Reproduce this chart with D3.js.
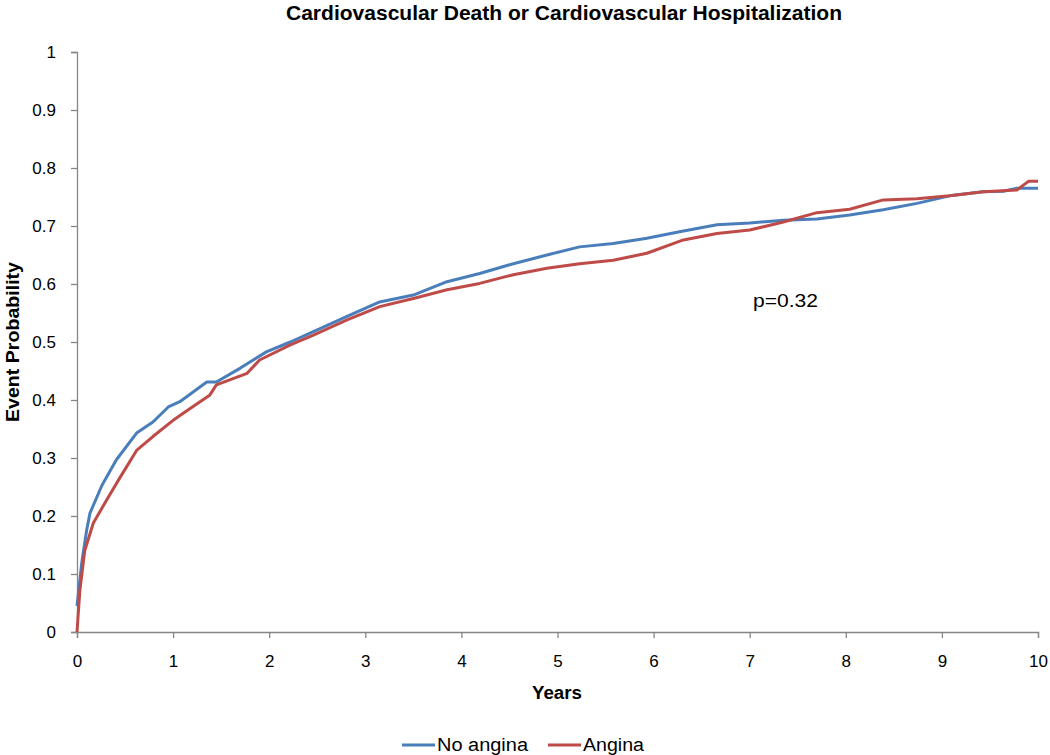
<!DOCTYPE html>
<html>
<head>
<meta charset="utf-8">
<script src="https://cdn.jsdelivr.net/npm/d3@7"></script>
<style>
  body { margin: 0; background: #fff; }
  text { font-family: "Liberation Sans", Arial, sans-serif; }
</style>
</head>
<body>
<div id="chart"></div>
<script>
// Kaplan-Meier style curves (years, event probability)
const noAnginaYears = [0, 0.05, 0.1, 0.135, 0.26, 0.41, 0.62, 0.79, 0.95, 1.07, 1.35, 1.45, 1.7, 1.97, 2.22,
  2.46, 2.81, 3.15, 3.5, 3.85, 4.19, 4.54, 4.89, 5.23, 5.58, 5.93, 6.27, 6.66, 7.0, 7.35, 7.7, 8.04, 8.39,
  8.74, 9.08, 9.43, 9.64, 9.78, 10];
const noAnginaProb = [0.045, 0.12, 0.175, 0.205, 0.253, 0.297, 0.343, 0.362, 0.388, 0.397, 0.431, 0.431, 0.455, 0.483, 0.5,
  0.518, 0.544, 0.569, 0.581, 0.604, 0.618, 0.635, 0.65, 0.664, 0.67, 0.679, 0.69, 0.702, 0.705, 0.71, 0.712, 0.719, 0.728,
  0.739, 0.752, 0.759, 0.76, 0.765, 0.765];

const anginaYears = [0, 0.03, 0.08, 0.17, 0.31, 0.45, 0.62, 0.79, 1.0, 1.2, 1.38, 1.45, 1.77, 1.9, 2.22,
  2.46, 2.81, 3.15, 3.5, 3.85, 4.19, 4.54, 4.89, 5.23, 5.58, 5.93, 6.31, 6.66, 7.0, 7.35, 7.7, 8.04, 8.39,
  8.74, 9.08, 9.43, 9.78, 9.9, 10];
const anginaProb = [0, 0.072, 0.14, 0.188, 0.228, 0.267, 0.313, 0.337, 0.365, 0.388, 0.408, 0.426, 0.446, 0.469, 0.495,
  0.512, 0.538, 0.561, 0.575, 0.59, 0.601, 0.616, 0.627, 0.635, 0.641, 0.653, 0.676, 0.687, 0.693, 0.707, 0.723, 0.729, 0.745,
  0.747, 0.752, 0.759, 0.762, 0.777, 0.777];

const xTicks = [0, 1, 2, 3, 4, 5, 6, 7, 8, 9, 10];
const yTicks = [0, 0.1, 0.2, 0.3, 0.4, 0.5, 0.6, 0.7, 0.8, 0.9, 1];

const width = 1050, height = 755;
const margin = { top: 52, right: 12, bottom: 123, left: 77 };

const svg = d3.select("#chart").append("svg")
    .attr("width", width)
    .attr("height", height);

const x = d3.scaleLinear().domain([0, 10]).range([margin.left, width - margin.right]);
const y = d3.scaleLinear().domain([0, 1]).range([height - margin.bottom, margin.top]);

// Axes
const xAxis = svg.append("g")
    .attr("transform", `translate(0,${y(0)})`)
    .call(d3.axisBottom(x).tickValues(xTicks).tickSize(6).tickPadding(17).tickFormat(d3.format("d")));
const yAxis = svg.append("g")
    .attr("transform", `translate(${x(0)},0)`)
    .call(d3.axisLeft(y).tickValues(yTicks).tickSize(6).tickPadding(15).tickFormat(d => d === 0 || d === 1 ? d : d3.format(".1f")(d)));

[xAxis, yAxis].forEach(ax => {
  ax.select(".domain").attr("stroke", "#868686").attr("stroke-width", 1.3);
  ax.selectAll(".tick line").attr("stroke", "#868686").attr("stroke-width", 1.3);
  ax.selectAll(".tick text").attr("fill", "#000").style("font-size", "17px")
    .style("font-family", "'Liberation Sans', Arial, sans-serif");
});

// Curves
const series = [
  { name: "No angina", xs: noAnginaYears, ys: noAnginaProb, color: "#4a7ebb" },
  { name: "Angina", xs: anginaYears, ys: anginaProb, color: "#be4b48" }
];

const line = d3.line()
    .x(d => x(d[0]))
    .y(d => y(d[1]));

series.forEach(s => {
  svg.append("path")
    .datum(s.xs.map((v, i) => [v, s.ys[i]]))
    .attr("fill", "none")
    .attr("stroke", s.color)
    .attr("stroke-width", 3)
    .attr("stroke-linejoin", "round")
    .attr("d", line);
});

// Title
svg.append("text")
    .attr("x", 286).attr("y", 20)
    .attr("textLength", 556).attr("lengthAdjust", "spacingAndGlyphs")
    .style("font-size", "20px").style("font-weight", "bold")
    .text("Cardiovascular Death or Cardiovascular Hospitalization");

// Axis titles
svg.append("text")
    .attr("x", 532).attr("y", 699)
    .attr("textLength", 50).attr("lengthAdjust", "spacingAndGlyphs")
    .style("font-size", "18px").style("font-weight", "bold")
    .text("Years");

svg.append("text")
    .attr("transform", `translate(19,422) rotate(-90)`)
    .attr("textLength", 160).attr("lengthAdjust", "spacingAndGlyphs")
    .style("font-size", "18px").style("font-weight", "bold")
    .text("Event Probability");

// p-value annotation
svg.append("text")
    .attr("x", 753).attr("y", 307)
    .attr("textLength", 65).attr("lengthAdjust", "spacingAndGlyphs")
    .style("font-size", "18px")
    .text("p=0.32");

// Legend
const legendPos = [402, 548];
const legendTextLen = [91, 61];
const legend = svg.selectAll(".legend")
    .data(series)
    .enter().append("g")
    .attr("transform", (d, i) => `translate(${legendPos[i]},745)`);

legend.append("line")
    .attr("x1", 0).attr("x2", 33)
    .attr("stroke", d => d.color)
    .attr("stroke-width", 3);

legend.append("text")
    .attr("x", 35).attr("y", 6)
    .attr("textLength", (d, i) => legendTextLen[i]).attr("lengthAdjust", "spacingAndGlyphs")
    .style("font-size", "18px")
    .text(d => d.name);
</script>
</body>
</html>
